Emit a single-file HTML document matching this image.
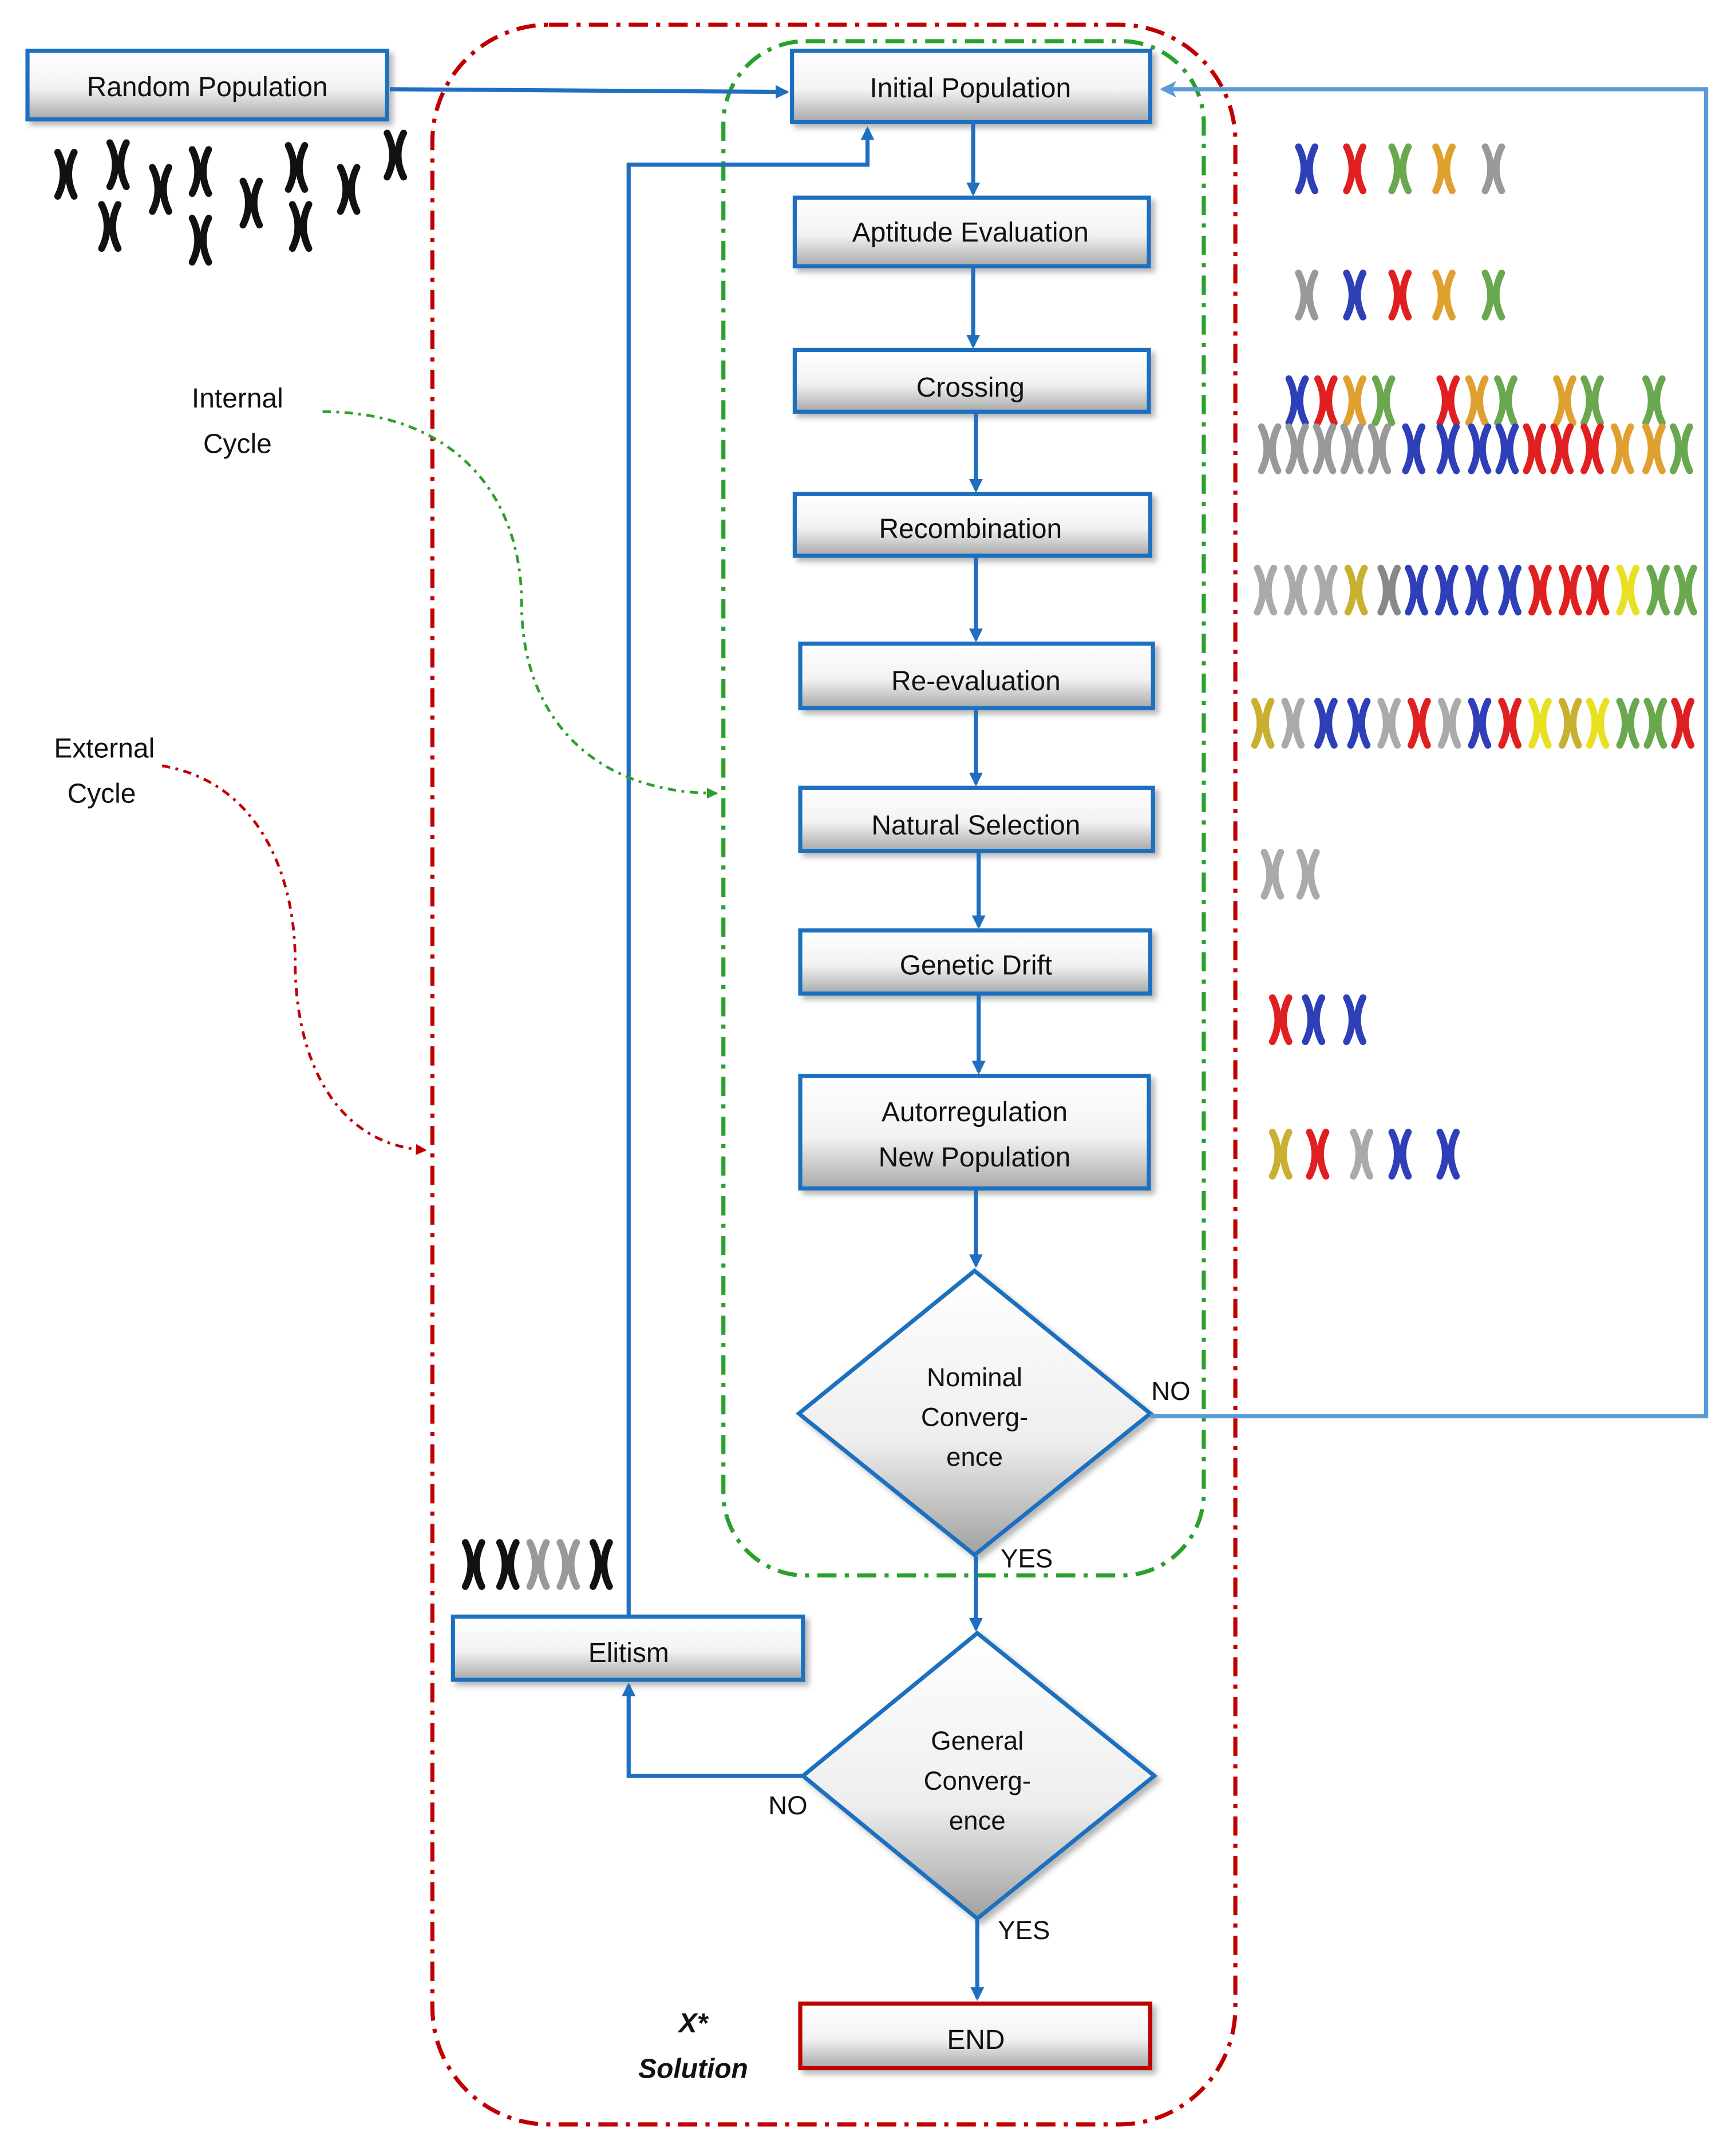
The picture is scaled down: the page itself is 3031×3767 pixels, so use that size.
<!DOCTYPE html>
<html><head><meta charset="utf-8">
<style>
html,body{margin:0;padding:0;background:#fff;}
svg{display:block;}
text{font-family:"Liberation Sans",sans-serif;}
</style></head>
<body>
<svg width="3031" height="3767" viewBox="0 0 1264 1571" xmlns="http://www.w3.org/2000/svg">
<defs>
<linearGradient id="g" x1="0" y1="0" x2="0" y2="1">
<stop offset="0" stop-color="#ffffff"/><stop offset="0.55" stop-color="#f2f2f2"/><stop offset="1" stop-color="#a9a9a9"/>
</linearGradient>
<linearGradient id="gd" x1="0" y1="0" x2="0" y2="1">
<stop offset="0" stop-color="#ffffff"/><stop offset="0.6" stop-color="#eeeeee"/><stop offset="1" stop-color="#a0a0a0"/>
</linearGradient>
<marker id="a" markerWidth="10" markerHeight="10" refX="8" refY="5" orient="auto" markerUnits="userSpaceOnUse">
<path d="M0,0 L10,5 L0,10 z" fill="#1f6fc0"/></marker>
<marker id="al" markerWidth="12" markerHeight="12" refX="10" refY="6" orient="auto" markerUnits="userSpaceOnUse">
<path d="M0,0 L12,6 L0,12 L3,6 z" fill="#5b9bd5"/></marker>
<marker id="ag" markerWidth="8" markerHeight="8" refX="7" refY="4" orient="auto" markerUnits="userSpaceOnUse">
<path d="M0,0 L8,4 L0,8 z" fill="#2ca02c"/></marker>
<marker id="ar" markerWidth="8" markerHeight="8" refX="7" refY="4" orient="auto" markerUnits="userSpaceOnUse">
<path d="M0,0 L8,4 L0,8 z" fill="#c00000"/></marker>
<g id="x">
<path d="M-6,-16 Q2,0 -6,16 M6,-16 Q-2,0 6,16" fill="none" stroke-width="5" stroke-linecap="round"/>
</g>
<filter id="sh" x="-5%" y="-5%" width="115%" height="130%"><feDropShadow dx="3" dy="3" stdDeviation="2" flood-color="#888" flood-opacity="0.6"/></filter>
</defs>

<!-- loops -->
<rect x="315" y="18" width="585" height="1530" rx="85" fill="none" stroke="#c00000" stroke-width="3" stroke-dasharray="14,6,3,6"/>
<rect x="527" y="30" width="350" height="1118" rx="60" fill="none" stroke="#2ca02c" stroke-width="3" stroke-dasharray="14,6,3,6"/>

<!-- boxes -->
<g stroke="#1f6fc0" stroke-width="3" fill="url(#g)" filter="url(#sh)">
<rect x="20" y="37" width="262" height="50"/>
<rect x="577" y="37" width="261" height="52"/>
<rect x="579" y="144" width="258" height="50"/>
<rect x="579" y="255" width="258" height="45"/>
<rect x="579" y="360" width="259" height="45"/>
<rect x="583" y="469" width="257" height="47"/>
<rect x="583" y="574" width="257" height="46"/>
<rect x="583" y="678" width="255" height="46"/>
<rect x="583" y="784" width="254" height="82"/>
<rect x="330" y="1178" width="255" height="46"/>
<polygon points="710,926 838,1030 710,1133 582,1030" fill="url(#gd)"/>
<polygon points="712,1190 841,1294 712,1398 585,1294" fill="url(#gd)"/>
</g>
<rect x="583" y="1460" width="255" height="47" fill="url(#g)" stroke="#c00000" stroke-width="3" filter="url(#sh)"/>

<g font-size="20" fill="#111" text-anchor="middle">
<text x="151" y="70">Random Population</text>
<text x="707" y="71">Initial Population</text>
<text x="707" y="176">Aptitude Evaluation</text>
<text x="707" y="289">Crossing</text>
<text x="707" y="392">Recombination</text>
<text x="711" y="503">Re-evaluation</text>
<text x="711" y="608">Natural Selection</text>
<text x="711" y="710">Genetic Drift</text>
<text x="710" y="817">Autorregulation</text>
<text x="710" y="850">New Population</text>
<text x="458" y="1211">Elitism</text>
<text x="711" y="1493">END</text>
<text x="710" y="1010" font-size="19">Nominal</text>
<text x="710" y="1039" font-size="19">Converg-</text>
<text x="710" y="1068" font-size="19">ence</text>
<text x="712" y="1275" font-size="19">General</text>
<text x="712" y="1304" font-size="19">Converg-</text>
<text x="712" y="1333" font-size="19">ence</text>
<text x="853" y="1020" font-size="19">NO</text>
<text x="748" y="1142" font-size="19">YES</text>
<text x="574" y="1322" font-size="19">NO</text>
<text x="746" y="1413" font-size="19">YES</text>
<text x="173" y="297">Internal</text>
<text x="173" y="330">Cycle</text>
<text x="76" y="552">External</text>
<text x="74" y="585">Cycle</text>
<text x="505" y="1481" font-style="italic" font-weight="bold">X*</text>
<text x="505" y="1514" font-style="italic" font-weight="bold">Solution</text>
</g>

<!-- arrows -->
<g stroke="#1f6fc0" stroke-width="3" fill="none">
<line x1="284" y1="65" x2="573" y2="67" marker-end="url(#a)"/>
<line x1="709" y1="90" x2="709" y2="141" marker-end="url(#a)"/>
<line x1="709" y1="195" x2="709" y2="252" marker-end="url(#a)"/>
<line x1="711" y1="301" x2="711" y2="357" marker-end="url(#a)"/>
<line x1="711" y1="406" x2="711" y2="466" marker-end="url(#a)"/>
<line x1="711" y1="517" x2="711" y2="571" marker-end="url(#a)"/>
<line x1="713" y1="621" x2="713" y2="675" marker-end="url(#a)"/>
<line x1="713" y1="725" x2="713" y2="781" marker-end="url(#a)"/>
<line x1="711" y1="867" x2="711" y2="922" marker-end="url(#a)"/>
<line x1="711" y1="1134" x2="711" y2="1187" marker-end="url(#a)"/>
<line x1="712" y1="1399" x2="712" y2="1456" marker-end="url(#a)"/>
<polyline points="458,1178 458,120 632,120 632,94" marker-end="url(#a)"/>
<polyline points="585,1294 458,1294 458,1228" marker-end="url(#a)"/>
</g>
<polyline points="838,1032 1243,1032 1243,65 847,65" fill="none" stroke="#5b9bd5" stroke-width="3" marker-end="url(#al)"/>
<path d="M235,300 C330,300 380,360 380,440 C380,520 430,578 522,578" fill="none" stroke="#2ca02c" stroke-width="2" stroke-dasharray="6,4,2,4" marker-end="url(#ag)"/>
<path d="M118,558 C190,570 215,640 215,700 C215,780 250,835 310,838" fill="none" stroke="#c00000" stroke-width="2" stroke-dasharray="6,4,2,4" marker-end="url(#ar)"/>

<!-- chromosomes -->
<g stroke="#111">
<use href="#x" x="48" y="127"/><use href="#x" x="86" y="120"/><use href="#x" x="117" y="138"/><use href="#x" x="146" y="125"/>
<use href="#x" x="183" y="148"/><use href="#x" x="216" y="122"/><use href="#x" x="254" y="138"/><use href="#x" x="288" y="113"/>
<use href="#x" x="80" y="165"/><use href="#x" x="146" y="175"/><use href="#x" x="219" y="165"/>
<use href="#x" x="345" y="1140"/><use href="#x" x="370" y="1140"/><use href="#x" x="438" y="1140"/>
</g>
<g stroke="#999"><use href="#x" x="392" y="1140"/><use href="#x" x="414" y="1140"/></g>

<g>
<use href="#x" x="952" y="123" stroke="#2f3fb8"/><use href="#x" x="987" y="123" stroke="#e02020"/><use href="#x" x="1020" y="123" stroke="#6aa84f"/><use href="#x" x="1052" y="123" stroke="#e0a030"/><use href="#x" x="1088" y="123" stroke="#999"/>
<use href="#x" x="952" y="215" stroke="#999"/><use href="#x" x="987" y="215" stroke="#2f3fb8"/><use href="#x" x="1020" y="215" stroke="#e02020"/><use href="#x" x="1052" y="215" stroke="#e0a030"/><use href="#x" x="1088" y="215" stroke="#6aa84f"/>
<use href="#x" x="945" y="292" stroke="#2f3fb8"/><use href="#x" x="966" y="292" stroke="#e02020"/><use href="#x" x="987" y="292" stroke="#e0a030"/><use href="#x" x="1008" y="292" stroke="#6aa84f"/>
<use href="#x" x="1055" y="292" stroke="#e02020"/><use href="#x" x="1076" y="292" stroke="#e0a030"/><use href="#x" x="1097" y="292" stroke="#6aa84f"/>
<use href="#x" x="1140" y="292" stroke="#e0a030"/><use href="#x" x="1160" y="292" stroke="#6aa84f"/><use href="#x" x="1205" y="292" stroke="#6aa84f"/>
</g>
<g>
<use href="#x" x="925" y="327" stroke="#999"/><use href="#x" x="945" y="327" stroke="#999"/><use href="#x" x="965" y="327" stroke="#999"/><use href="#x" x="985" y="327" stroke="#999"/><use href="#x" x="1005" y="327" stroke="#999"/>
<use href="#x" x="1030" y="327" stroke="#2f3fb8"/><use href="#x" x="1055" y="327" stroke="#2f3fb8"/><use href="#x" x="1078" y="327" stroke="#2f3fb8"/><use href="#x" x="1098" y="327" stroke="#2f3fb8"/>
<use href="#x" x="1118" y="327" stroke="#e02020"/><use href="#x" x="1138" y="327" stroke="#e02020"/><use href="#x" x="1160" y="327" stroke="#e02020"/>
<use href="#x" x="1182" y="327" stroke="#e0a030"/><use href="#x" x="1205" y="327" stroke="#e0a030"/><use href="#x" x="1225" y="327" stroke="#6aa84f"/>
</g>
<g>
<use href="#x" x="922" y="430" stroke="#aaa"/><use href="#x" x="944" y="430" stroke="#aaa"/><use href="#x" x="966" y="430" stroke="#aaa"/><use href="#x" x="988" y="430" stroke="#c9b030"/>
<use href="#x" x="1012" y="430" stroke="#888"/><use href="#x" x="1032" y="430" stroke="#2f3fb8"/><use href="#x" x="1054" y="430" stroke="#2f3fb8"/><use href="#x" x="1076" y="430" stroke="#2f3fb8"/>
<use href="#x" x="1100" y="430" stroke="#2f3fb8"/><use href="#x" x="1122" y="430" stroke="#e02020"/><use href="#x" x="1144" y="430" stroke="#e02020"/><use href="#x" x="1164" y="430" stroke="#e02020"/>
<use href="#x" x="1186" y="430" stroke="#e8e020"/><use href="#x" x="1208" y="430" stroke="#6aa84f"/><use href="#x" x="1228" y="430" stroke="#6aa84f"/>
</g>
<g>
<use href="#x" x="920" y="527" stroke="#c9b030"/><use href="#x" x="942" y="527" stroke="#aaa"/><use href="#x" x="966" y="527" stroke="#2f3fb8"/><use href="#x" x="990" y="527" stroke="#2f3fb8"/>
<use href="#x" x="1012" y="527" stroke="#aaa"/><use href="#x" x="1034" y="527" stroke="#e02020"/><use href="#x" x="1056" y="527" stroke="#aaa"/><use href="#x" x="1078" y="527" stroke="#2f3fb8"/>
<use href="#x" x="1100" y="527" stroke="#e02020"/><use href="#x" x="1122" y="527" stroke="#e8e020"/><use href="#x" x="1144" y="527" stroke="#c9b030"/><use href="#x" x="1164" y="527" stroke="#e8e020"/>
<use href="#x" x="1186" y="527" stroke="#6aa84f"/><use href="#x" x="1206" y="527" stroke="#6aa84f"/><use href="#x" x="1226" y="527" stroke="#e02020"/>
</g>
<g>
<use href="#x" x="927" y="637" stroke="#aaa"/><use href="#x" x="953" y="637" stroke="#aaa"/>
<use href="#x" x="933" y="743" stroke="#e02020"/><use href="#x" x="957" y="743" stroke="#2f3fb8"/><use href="#x" x="987" y="743" stroke="#2f3fb8"/>
<use href="#x" x="933" y="841" stroke="#c9b030"/><use href="#x" x="960" y="841" stroke="#e02020"/><use href="#x" x="992" y="841" stroke="#aaa"/><use href="#x" x="1020" y="841" stroke="#2f3fb8"/><use href="#x" x="1055" y="841" stroke="#2f3fb8"/>
</g>
</svg>
</body></html>
